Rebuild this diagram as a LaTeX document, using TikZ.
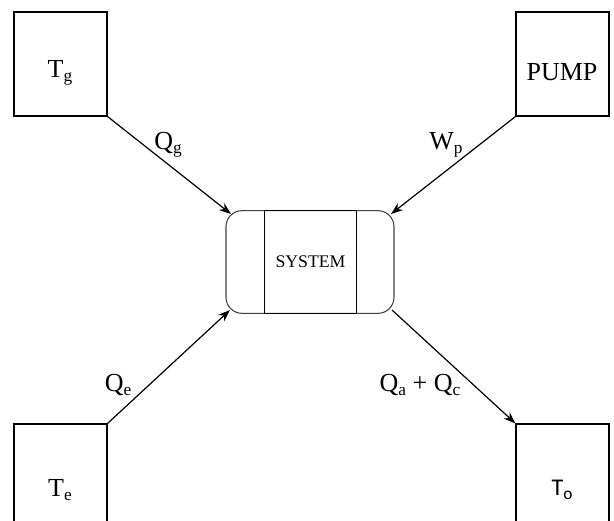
\documentclass[tikz,border=0pt]{standalone}
\usepackage{amsmath}
\usepackage{fontspec}
\setmainfont{Liberation Serif}
\newfontfamily\serfont{Liberation Serif}
\newfontfamily\calfont{Carlito}
\usetikzlibrary{arrows.meta}
\tikzset{
  px/.style={x=0.75pt,y=-0.75pt},
  outerbox/.style={draw,line width=0.8pt,minimum width=69.75pt,minimum height=78pt,inner sep=0pt},
  lbl/.style={font=\serfont\fontsize{19.5}{22}\selectfont,inner sep=0pt},
  flow/.style={line width=0.9pt,-{Stealth[length=9pt,width=6.5pt]}},
}
\newcommand\lowsub[1]{\raisebox{-0.35ex}{\fontsize{13}{14}\selectfont #1}}
\begin{document}
\begin{tikzpicture}[px]
\useasboundingbox (0,0) rectangle (614,521);
\clip (0,0) rectangle (614,521);
% boxes
\node[outerbox] (tg) at (60.5,64) {};
\node[outerbox] (pump) at (562.5,64) {};
\node[outerbox,minimum height=90pt] (te) at (60.5,484) {};
\node[outerbox,minimum height=90pt] (to) at (562.5,484) {};
\node[lbl] (tgt) at (60,73) {T\lowsub{g}};
\node[lbl] (pumpt) at (562,72) {PUMP};
\node[lbl] (tet) at (60,490) {T\lowsub{e}};
\node[lbl,font=\calfont\fontsize{18}{22}\selectfont] (tot) at (562,490) {T\lowsub{o}};
% system
\node[draw=black!75,line width=0.8pt,rounded corners=12pt,minimum width=126pt,minimum height=77pt,inner sep=0pt] (sys) at (310,262) {};
\node[draw,line width=0.8pt,minimum width=69pt,minimum height=77pt,inner sep=0pt,font=\serfont\fontsize{13.3}{16}\selectfont] (core) at (310.5,262) {SYSTEM};
\coordinate (sysnw) at (231,214);
\coordinate (sysne) at (391,214);
\coordinate (syssw) at (230,310);
\coordinate (sysse) at (392,310);
% flows
\draw[flow] (tg.south east) -- (sysnw);
\draw[flow] (pump.south west) -- (sysne);
\draw[flow] (te.north east) -- (syssw);
\draw[flow] (sysse) -- (to.north west);
% labels
\node[lbl] (qg) at (168,145) {Q\lowsub{g}};
\node[lbl] (wp) at (446,145) {W\lowsub{p}};
\node[lbl] (qe) at (118,385) {Q\lowsub{e}};
\node[lbl] (qac) at (420,385) {Q\lowsub{a} + Q\lowsub{c}};
\end{tikzpicture}
\end{document}
